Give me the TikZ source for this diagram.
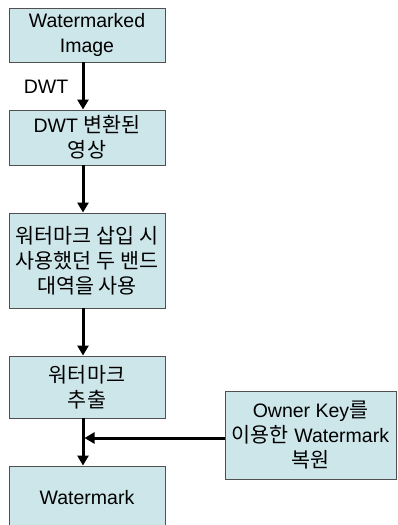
\documentclass[tikz,border=0pt]{standalone}
\usepackage{fontspec}
\setmainfont{Liberation Sans}
\newfontfamily\krfont[Scale=1.06]{Noto Sans CJK KR}
\newcommand\ko[1]{{\krfont #1}}
\usetikzlibrary{arrows.meta}
\definecolor{boxfill}{RGB}{205,230,234}
\definecolor{boxline}{RGB}{80,80,80}
\tikzset{
  box/.style={draw=boxline, line width=0.9pt, fill=boxfill, minimum width=156pt, align=center,
    inner sep=0pt, font=\fontsize{19.5}{25}\selectfont},
  flow/.style={line width=3pt, -{Triangle[width=11pt,length=10pt]}},
}
\begin{document}
\begin{tikzpicture}[x=1pt,y=-1pt]
\useasboundingbox (0,0) rectangle (397,525);
\clip (0,0) rectangle (397,525);
\fill[white] (0,0) rectangle (397,525);
\node[box, minimum height=54pt] (b1) at (87,35) {Watermarked\\Image};
\node[box, minimum height=55pt] (b2) at (87,137.5) {DWT \ko{변환된}\\\ko{영상}};
\node[box, minimum height=95pt] (b3) at (87,260.5) {\ko{워터마크 삽입 시}\\\ko{사용했던 두 밴드}\\\ko{대역을 사용}};
\node[box, minimum height=62pt] (b4) at (87,387) {\ko{워터마크}\\\ko{추출}};
\node[box, minimum height=64pt] (b5) at (87,498) {Watermark};
\node[box, minimum width=171pt, minimum height=88pt] (b6) at (310.5,435) {Owner Key\ko{를}\\\ko{이용한} Watermark\\\ko{복원}};
\node[font=\fontsize{19.5}{22}\selectfont] (dwt) at (46,87) {DWT};
\coordinate (j) at (b4.south |- 0,438);
\draw[flow] ([xshift=-4pt]b1.south) -- ([xshift=-4pt]b2.north);
\draw[flow] ([xshift=-4pt]b2.south) -- ([xshift=-4pt]b3.north);
\draw[flow] ([xshift=-4pt]b3.south) -- ([xshift=-4pt]b4.north);
\draw[flow] ([xshift=-4pt]b4.south) -- ([xshift=-4pt]b5.north);
\draw[flow] (b6.west |- 0,438) -- ([xshift=-2.5pt]j);
\end{tikzpicture}
\end{document}
